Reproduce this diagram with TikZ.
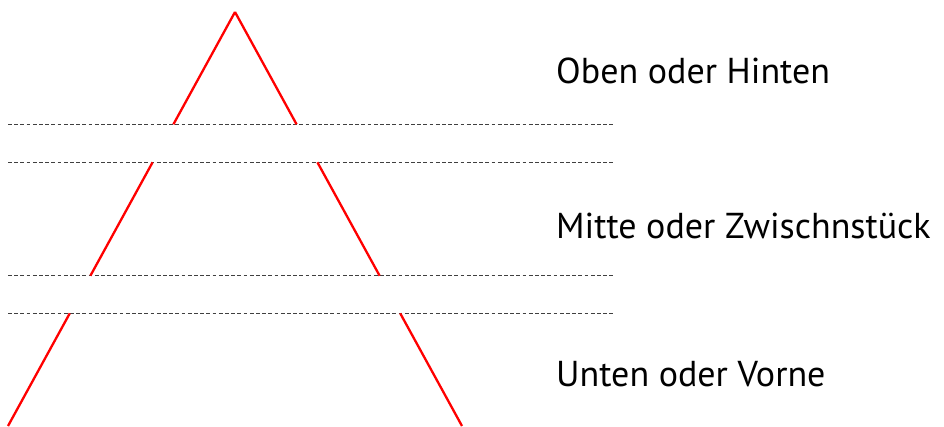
\documentclass[tikz,border=0pt]{standalone}
\usepackage{fontspec}
\setmainfont{PT Sans}
\usetikzlibrary{calc}
\begin{document}
\begin{tikzpicture}[x=1pt,y=-1pt,
  sideline/.style={red,line width=2.3pt},
  guide/.style={draw=black!75,line width=1.1pt,dash pattern=on 3.8pt off 2.4pt},
  label/.style={anchor=base west,inner sep=0pt,font=\fontsize{36}{40}\selectfont}]
  \useasboundingbox (0,0) rectangle (944,426);
  % apex and base corners of the pyramid
  \coordinate (apex) at (235,12);
  \coordinate (bl) at (8,426);
  \coordinate (br) at (462,426);
  % dashed guide lines separating the three sections
  \foreach \y/\n in {124.3/a,162.3/b,275.7/c,313.3/d}{
    \coordinate (g\n w) at (8,\y);
    \coordinate (g\n e) at (613,\y);
    \draw[guide] (g\n w) -- (g\n e);
  }
  % sides of the pyramid, interrupted between the guide pairs
  \foreach \ya/\yb in {12/124.3,162.3/275.7,313.3/426}{
    \draw[sideline] ($(apex)!{(\ya-12)/414}!(bl)$) -- ($(apex)!{(\yb-12)/414}!(bl)$);
    \draw[sideline] ($(apex)!{(\ya-12)/414}!(br)$) -- ($(apex)!{(\yb-12)/414}!(br)$);
  }
  % section labels
  \node[label] (top) at (556,83) {Oben oder Hinten};
  \node[label] (mid) at (556,238) {Mitte oder Zwischnstück};
  \node[label] (bot) at (556,386) {Unten oder Vorne};
\end{tikzpicture}
\end{document}
